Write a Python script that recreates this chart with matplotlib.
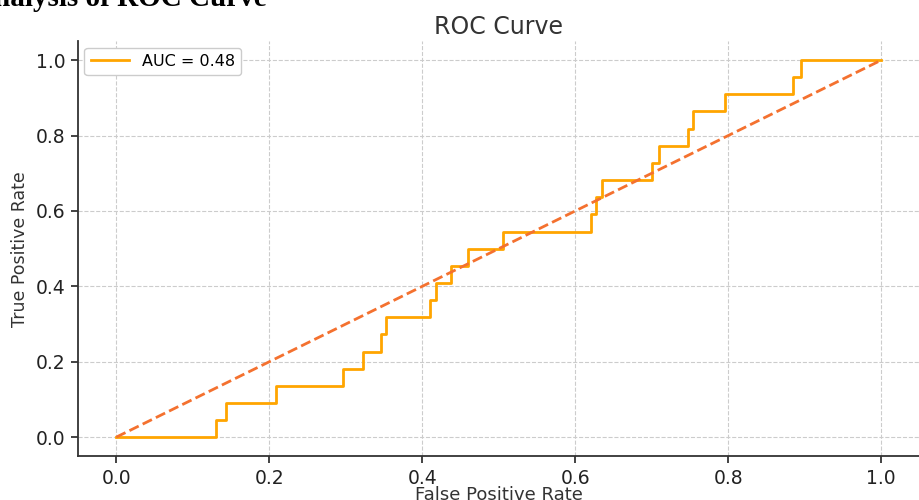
import matplotlib
matplotlib.use("Agg")
from matplotlib import pyplot as plt

# step corners of the ROC curve (fpr, tpr)
fpr = [0.0, 0.130, 0.144, 0.209, 0.297, 0.322, 0.346, 0.353, 0.410, 0.418,
       0.437, 0.460, 0.505, 0.620, 0.627, 0.635, 0.700, 0.710, 0.747, 0.754,
       0.796, 0.884, 0.895, 1.0]
tpr = [0.0, 0.045, 0.091, 0.136, 0.182, 0.227, 0.273, 0.318, 0.364, 0.409,
       0.455, 0.500, 0.545, 0.591, 0.636, 0.682, 0.727, 0.773, 0.818, 0.864,
       0.909, 0.955, 1.0, 1.0]
auc_label = "AUC = 0.48"
chance = [0.0, 1.0]

fig = plt.figure(figsize=(9.19, 5.0), dpi=100)
ax = fig.add_axes([78 / 919, 44 / 500, 841.5 / 919, 414.7 / 500])

ax.step(fpr, tpr, where="post", color="orange", lw=2, label=auc_label)
ax.plot(chance, chance, color="#f4712f", lw=2, linestyle="--")

ax.set_xlim(-0.05, 1.05)
ax.set_ylim(-0.05, 1.05)
ax.set_xticks([0.0, 0.2, 0.4, 0.6, 0.8, 1.0])
ax.set_yticks([0.0, 0.2, 0.4, 0.6, 0.8, 1.0])
ax.tick_params(labelsize=13.5, length=5, width=1.2, colors="#222222", pad=4)
ax.spines["top"].set_visible(False)
ax.spines["right"].set_visible(False)
ax.spines["left"].set_linewidth(1.3)
ax.spines["bottom"].set_linewidth(1.3)
ax.spines["left"].set_color("#333333")
ax.spines["bottom"].set_color("#333333")
ax.grid(True, linestyle="--", color="#cccccc", lw=0.8)

ax.set_xlabel("False Positive Rate", fontsize=13, color="#333333", labelpad=-1)
ax.set_ylabel("True Positive Rate", fontsize=12.5, color="#333333", labelpad=5)
ax.set_title("ROC Curve", fontsize=17, color="#333333", pad=5)
ax.legend(loc="upper left", fontsize=11.5, framealpha=1, edgecolor="#cccccc",
          handlelength=2.4, borderaxespad=0.4)

# cut-off heading from the page above the chart
fig.text(267 / 919, 1 - 6 / 500, "Analysis of ROC Curve", family="Liberation Serif",
         fontweight="bold", fontsize=21, va="baseline", ha="right")

fig.savefig("out.png", dpi=100)
